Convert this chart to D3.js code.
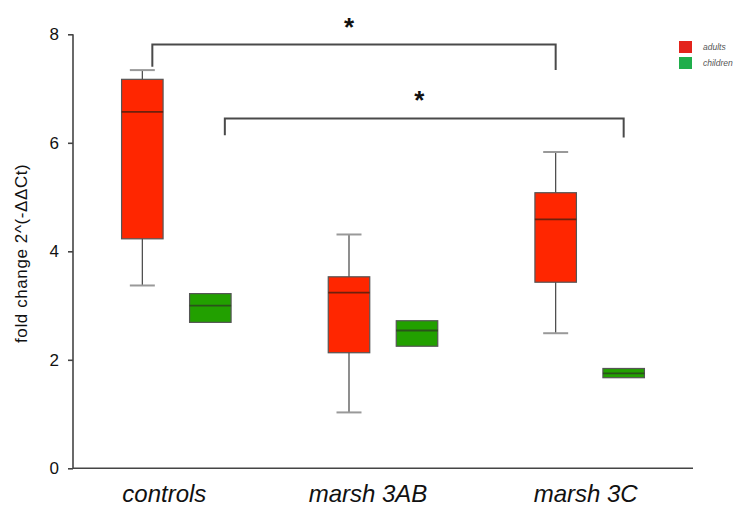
<!DOCTYPE html>
<html>
<head>
<meta charset="utf-8">
<script src="https://cdn.jsdelivr.net/npm/d3@7"></script>
<style>
  html, body { margin: 0; padding: 0; background: #fff; }
  svg { display: block; }
  text { font-family: "Liberation Sans", Arial, sans-serif; }
</style>
</head>
<body>
<svg id="chart" width="737" height="508"></svg>
<script>
// Groups and series
const categories = ["controls", "marsh 3AB", "marsh 3C"];
const series = ["adults", "children"];

// Box statistics per group, one array per series (order follows categories)
const adultsLow    = [3.37, 1.03, 2.49];
const adultsQ1     = [4.23, 2.13, 3.43];
const adultsMedian = [6.57, 3.24, 4.59];
const adultsQ3     = [7.17, 3.53, 5.08];
const adultsHigh   = [7.34, 4.31, 5.83];

const childrenQ1     = [2.69, 2.25, 1.67];
const childrenMedian = [3.00, 2.54, 1.75];
const childrenQ3     = [3.22, 2.72, 1.84];

// Y axis ticks
const yTicks = [0, 2, 4, 6, 8];

// Significance brackets: endpoints (group, series), bar level and drop levels
const bracketFrom  = [["controls", "adults"], ["controls", "children"]];
const bracketTo    = [["marsh 3C", "adults"], ["marsh 3C", "children"]];
const bracketLevel = [7.81, 6.45];
const bracketDropL = [7.40, 6.14];
const bracketDropR = [7.34, 6.10];
const bracketMark  = ["*", "*"];

const svg = d3.select("#chart");

const y = d3.scaleLinear().domain([0, 8]).range([468.3, 34.3]);
const x = d3.scaleBand().domain(categories).range([73, 693]);
const xs = d3.scalePoint().domain(series)
  .range([x.bandwidth() / 2 - 34, x.bandwidth() / 2 + 34]);

const colors = { adults: "#ff2600", children: "#22a000" };
const medianColors = { adults: "#6e200c", children: "#2a521b" };
const boxW = 41.5;
const capW = 25;

const cx = (cat, s) => x(cat) + xs(s);

// Build boxes from the arrays
const boxes = [];
categories.forEach((c, i) => {
  boxes.push({ cat: c, s: "adults", q1: adultsQ1[i], med: adultsMedian[i], q3: adultsQ3[i], lo: adultsLow[i], hi: adultsHigh[i] });
  boxes.push({ cat: c, s: "children", q1: childrenQ1[i], med: childrenMedian[i], q3: childrenQ3[i], lo: null, hi: null });
});

// Axes
const yAxis = d3.axisLeft(y).tickValues(yTicks).tickSize(5).tickPadding(9);
const gy = svg.append("g").attr("transform", "translate(73,0)").call(yAxis);
gy.select(".domain").attr("stroke", "#444").attr("stroke-width", 1.6).attr("d", `M0,${y(8)}V${y(0)}`);
gy.selectAll(".tick line").attr("stroke", "#444").attr("stroke-width", 1.6);
gy.selectAll(".tick text").attr("font-size", 17).attr("fill", "#111")
  .style("font-family", "'Liberation Sans', Arial, sans-serif");

const xAxis = d3.axisBottom(x).tickSize(0).tickPadding(12);
const gx = svg.append("g").attr("transform", `translate(0,${y(0)})`).call(xAxis);
gx.select(".domain").attr("stroke", "#444").attr("stroke-width", 1.6).attr("d", "M73,0H693");
gx.selectAll(".tick text")
  .attr("font-size", 24).attr("font-style", "italic").attr("fill", "#111")
  .attr("dx", (d, i) => [-12, -15, -4][i])
  .attr("dy", "0.92em")
  .style("font-family", "'Liberation Sans', Arial, sans-serif");

// Y axis title
svg.append("text")
  .attr("transform", `translate(27,${(y(0) + y(8)) / 2 + 2}) rotate(-90)`)
  .attr("text-anchor", "middle")
  .attr("font-size", 17)
  .attr("letter-spacing", 0.6)
  .attr("fill", "#111")
  .text("fold change 2^(-ΔΔCt)");

// Whiskers
const wh = svg.append("g").selectAll("g").data(boxes.filter(d => d.lo !== null)).join("g");
wh.append("line")
  .attr("x1", d => cx(d.cat, d.s)).attr("x2", d => cx(d.cat, d.s))
  .attr("y1", d => y(d.hi)).attr("y2", d => y(d.lo))
  .attr("stroke", "#444").attr("stroke-width", 1.2);
wh.append("line")
  .attr("x1", d => cx(d.cat, d.s) - capW / 2).attr("x2", d => cx(d.cat, d.s) + capW / 2)
  .attr("y1", d => y(d.hi)).attr("y2", d => y(d.hi))
  .attr("stroke", "#999").attr("stroke-width", 2);
wh.append("line")
  .attr("x1", d => cx(d.cat, d.s) - capW / 2).attr("x2", d => cx(d.cat, d.s) + capW / 2)
  .attr("y1", d => y(d.lo)).attr("y2", d => y(d.lo))
  .attr("stroke", "#999").attr("stroke-width", 2);

// Boxes
const bx = svg.append("g").selectAll("g").data(boxes).join("g");
bx.append("rect")
  .attr("x", d => cx(d.cat, d.s) - boxW / 2)
  .attr("y", d => y(d.q3))
  .attr("width", boxW)
  .attr("height", d => y(d.q1) - y(d.q3))
  .attr("fill", d => colors[d.s])
  .attr("stroke", "#555").attr("stroke-width", 1.2);
bx.append("line")
  .attr("x1", d => cx(d.cat, d.s) - boxW / 2).attr("x2", d => cx(d.cat, d.s) + boxW / 2)
  .attr("y1", d => y(d.med)).attr("y2", d => y(d.med))
  .attr("stroke", d => medianColors[d.s]).attr("stroke-width", 1.8);

// Significance brackets
const leftNudge = [10, 14.5];
bracketLevel.forEach((lvl, i) => {
  const x1 = cx(...bracketFrom[i]) + leftNudge[i];
  const x2 = cx(...bracketTo[i]);
  const path = d3.path();
  path.moveTo(x1, y(bracketDropL[i]));
  path.lineTo(x1, y(lvl));
  path.lineTo(x2, y(lvl));
  path.lineTo(x2, y(bracketDropR[i]));
  svg.append("path").attr("d", path.toString())
    .attr("fill", "none").attr("stroke", "#4a4a4a").attr("stroke-width", 2);
  svg.append("text")
    .attr("x", (x1 + x2) / 2 - 5)
    .attr("y", y(lvl) - 9)
    .attr("text-anchor", "middle")
    .attr("font-size", 26).attr("font-weight", "bold").attr("fill", "#111")
    .text(bracketMark[i]);
});

// Legend
const legendColors = { adults: "#e3241c", children: "#1fae4b" };
const lg = svg.append("g").attr("transform", "translate(679,41)");
series.forEach((s, i) => {
  lg.append("rect").attr("x", 0).attr("y", i * 16).attr("width", 13).attr("height", 12)
    .attr("fill", legendColors[s]);
  lg.append("text").attr("x", 24).attr("y", i * 16 + 9)
    .attr("font-size", 8.5).attr("font-style", "italic").attr("fill", "#555")
    .text(s);
});
</script>
</body>
</html>
